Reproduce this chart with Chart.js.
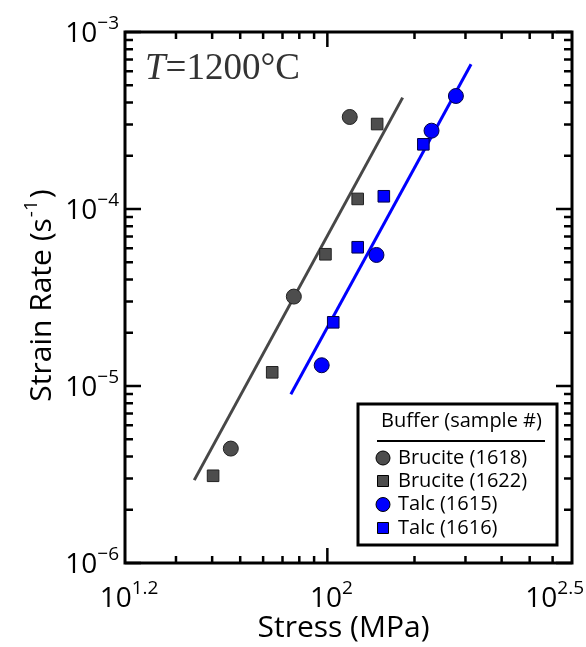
<!DOCTYPE html>
<html>
<head>
<meta charset="utf-8">
<script src="https://cdn.jsdelivr.net/npm/chart.js@4.4.0/dist/chart.umd.min.js"></script>
<style>
  html, body { margin: 0; padding: 0; background: #fff; }
  canvas { display: block; }
</style>
</head>
<body>
<canvas id="chart" width="586" height="647"></canvas>
<script>
// data (stress in MPa, strain rate in 1/s)
const brucite1618Stress = [46.4, 76.6, 119.5];
const brucite1618Rate = [4.43e-6, 3.2e-5, 3.31e-4];
const brucite1622Stress = [40.3, 64.5, 98.5, 127.3, 148.6];
const brucite1622Rate = [3.11e-6, 1.195e-5, 5.55e-5, 1.14e-4, 3.02e-4];
const talc1615Stress = [95.6, 147.8, 229, 278];
const talc1615Rate = [1.31e-5, 5.5e-5, 2.77e-4, 4.35e-4];
const talc1616Stress = [104.8, 127.3, 156.7, 214.6];
const talc1616Rate = [2.29e-5, 6.08e-5, 1.18e-4, 2.32e-4];
const bruciteFitStress = [34.7, 182];
const bruciteFitRate = [2.94e-6, 4.26e-4];
const talcFitStress = [74.8, 313.6];
const talcFitRate = [8.98e-6, 6.57e-4];

// axis ticks and labels
const xMin = 20, xMax = 700;
const yMin = 1e-6, yMax = 1e-3;
const xMinorTicks = [30, 40, 50, 60, 70, 80, 90, 200, 300, 400, 500, 600];
const xMajorTicks = [100];
const xTickLabels = [[xMin, '1.2'], [100, '2'], [xMax, '2.5']];
const yMajorTicks = [1e-6, 1e-5, 1e-4, 1e-3];
const yTickLabels = [[1e-6, '\u22126'], [1e-5, '\u22125'], [1e-4, '\u22124'], [1e-3, '\u22123']];

const GRAY = '#4d4d4d';
const BLUE = '#0000ff';
const FONT = '"Open Sans", "Noto Sans", sans-serif';

function pts(xs, ys) {
    return xs.map((x, i) => ({ x: x, y: ys[i] }));
}

function yMinorTicks() {
    const out = [];
    for (let e = -6; e < -3; e++) {
        for (let m = 2; m <= 9; m++) out.push(m * Math.pow(10, e));
    }
    return out;
}

// "10" with a raised exponent
function drawPower(ctx, exp, x, y, align) {
    ctx.font = '28px ' + FONT;
    const wb = ctx.measureText('10').width;
    ctx.font = '19px ' + FONT;
    const we = ctx.measureText(exp).width;
    let left = x;
    if (align === 'right') left = x - wb - we;
    if (align === 'center') left = x - (wb + we) / 2;
    ctx.fillStyle = '#000';
    ctx.textAlign = 'left';
    ctx.textBaseline = 'alphabetic';
    ctx.font = '28px ' + FONT;
    ctx.fillText('10', left, y);
    ctx.font = '19px ' + FONT;
    ctx.fillText(exp, left + wb, y - 13);
}

const framePlugin = {
    id: 'frame',
    afterDraw(chart) {
        const ctx = chart.ctx;
        const area = chart.chartArea;
        const xs = chart.scales.x, ys = chart.scales.y;
        ctx.save();

        // ticks, pointing inward on all four sides
        ctx.strokeStyle = '#000';
        ctx.lineWidth = 2.5;
        ctx.beginPath();
        const xTick = (v, len) => {
            const px = xs.getPixelForValue(v);
            ctx.moveTo(px, area.bottom); ctx.lineTo(px, area.bottom - len);
            ctx.moveTo(px, area.top); ctx.lineTo(px, area.top + len);
        };
        const yTick = (v, len) => {
            const py = ys.getPixelForValue(v);
            ctx.moveTo(area.left, py); ctx.lineTo(area.left + len, py);
            ctx.moveTo(area.right, py); ctx.lineTo(area.right - len, py);
        };
        xMinorTicks.forEach(v => xTick(v, 7));
        xMajorTicks.forEach(v => xTick(v, 15));
        yMinorTicks().forEach(v => yTick(v, 8));
        yMajorTicks.forEach(v => yTick(v, 16));
        ctx.stroke();

        // frame
        ctx.lineWidth = 3;
        ctx.strokeRect(area.left, area.top, area.right - area.left, area.bottom - area.top);

        // tick labels
        yTickLabels.forEach(([v, e]) => drawPower(ctx, e, area.left - 6, ys.getPixelForValue(v) + 10, 'right'));
        xTickLabels.forEach(([v, e]) => {
            if (v === xMax) drawPower(ctx, e, 584, area.bottom + 44, 'right');
            else drawPower(ctx, e, xs.getPixelForValue(v) + 4, area.bottom + 44, 'center');
        });

        // axis titles
        ctx.fillStyle = '#000';
        ctx.font = '30px ' + FONT;
        ctx.textAlign = 'center';
        ctx.fillText('Stress (MPa)', (area.left + area.right) / 2 - 5, 637);

        ctx.save();
        ctx.translate(51, 297);
        ctx.rotate(-Math.PI / 2);
        ctx.font = '30px ' + FONT;
        const t1 = 'Strain Rate (s', t2 = '-1', t3 = ')';
        const w1 = ctx.measureText(t1).width, w3 = ctx.measureText(t3).width;
        ctx.font = '19px ' + FONT;
        const w2 = ctx.measureText(t2).width;
        let sx = -(w1 + w2 + w3) / 2;
        ctx.textAlign = 'left';
        ctx.font = '30px ' + FONT;
        ctx.fillText(t1, sx, 0);
        ctx.font = '19px ' + FONT;
        ctx.fillText(t2, sx + w1 + 1, -14);
        ctx.font = '30px ' + FONT;
        ctx.fillText(t3, sx + w1 + w2 + 3, 0);
        ctx.restore();

        // temperature note
        ctx.fillStyle = '#333';
        ctx.textAlign = 'left';
        ctx.font = 'italic 37px "Liberation Serif", serif';
        ctx.fillText('T', 145, 79);
        const wt = ctx.measureText('T').width;
        ctx.font = '37px "Liberation Serif", serif';
        ctx.fillText('=1200\u00b0C', 145 + wt, 79);

        // legend box
        const lx = 358, ly = 404, lw = 199, lh = 141;
        ctx.fillStyle = '#fff';
        ctx.fillRect(lx, ly, lw, lh);
        ctx.lineWidth = 3;
        ctx.strokeStyle = '#000';
        ctx.strokeRect(lx, ly, lw, lh);
        ctx.fillStyle = '#000';
        ctx.font = '20px ' + FONT;
        ctx.textAlign = 'center';
        ctx.fillText('Buffer (sample #)', lx + lw / 2 + 4, 427);
        ctx.lineWidth = 2;
        ctx.beginPath();
        ctx.moveTo(377, 441); ctx.lineTo(545, 441);
        ctx.stroke();

        const rowsY = [458, 481, 504.5, 528];
        chart.data.datasets.slice(0, 4).forEach((ds, i) => {
            ctx.fillStyle = ds.backgroundColor;
            ctx.strokeStyle = '#000';
            ctx.lineWidth = 1;
            ctx.beginPath();
            if (ds.pointStyle === 'rect') {
                ctx.rect(383 - 5.5, rowsY[i] - 5.5, 11, 11);
            } else {
                ctx.arc(383, rowsY[i], 7, 0, Math.PI * 2);
            }
            ctx.fill();
            ctx.stroke();
            ctx.fillStyle = '#000';
            ctx.textAlign = 'left';
            ctx.textBaseline = 'middle';
            ctx.font = '20px ' + FONT;
            ctx.fillText(ds.label, 398, rowsY[i]);
            ctx.textBaseline = 'alphabetic';
        });

        ctx.restore();
    }
};

const ctx = document.getElementById('chart').getContext('2d');
new Chart(ctx, {
    type: 'scatter',
    data: {
        datasets: [
            {
                label: 'Brucite (1618)',
                data: pts(brucite1618Stress, brucite1618Rate),
                pointStyle: 'circle',
                pointRadius: 7.5,
                backgroundColor: GRAY,
                borderColor: '#222',
                borderWidth: 1
            },
            {
                label: 'Brucite (1622)',
                data: pts(brucite1622Stress, brucite1622Rate),
                pointStyle: 'rect',
                pointRadius: 8.2,
                backgroundColor: GRAY,
                borderColor: '#222',
                borderWidth: 1
            },
            {
                label: 'Talc (1615)',
                data: pts(talc1615Stress, talc1615Rate),
                pointStyle: 'circle',
                pointRadius: 7.5,
                backgroundColor: BLUE,
                borderColor: '#000044',
                borderWidth: 1
            },
            {
                label: 'Talc (1616)',
                data: pts(talc1616Stress, talc1616Rate),
                pointStyle: 'rect',
                pointRadius: 8.2,
                backgroundColor: BLUE,
                borderColor: '#000044',
                borderWidth: 1
            },
            {
                label: 'Brucite fit',
                data: pts(bruciteFitStress, bruciteFitRate),
                showLine: true,
                pointRadius: 0,
                borderColor: '#474747',
                borderWidth: 3
            },
            {
                label: 'Talc fit',
                data: pts(talcFitStress, talcFitRate),
                showLine: true,
                pointRadius: 0,
                borderColor: BLUE,
                borderWidth: 3
            }
        ]
    },
    options: {
        responsive: false,
        animation: false,
        layout: { padding: { left: 125, top: 32, right: 14, bottom: 84 } },
        plugins: { legend: { display: false }, tooltip: { enabled: false } },
        scales: {
            x: { type: 'logarithmic', min: xMin, max: xMax, display: false },
            y: { type: 'logarithmic', min: yMin, max: yMax, display: false }
        }
    },
    plugins: [framePlugin]
});
</script>
</body>
</html>
